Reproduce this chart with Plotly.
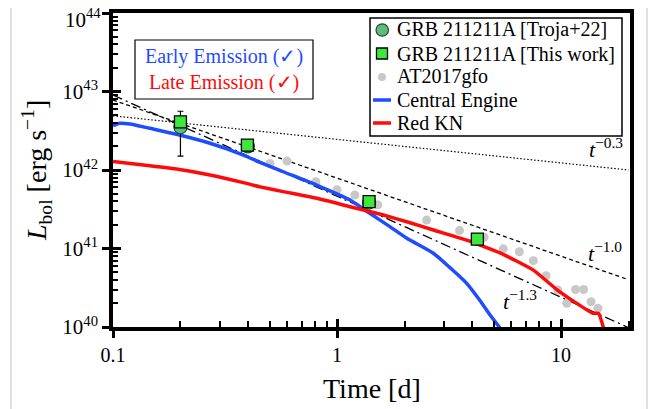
import plotly.graph_objects as go

# ---------------- data ----------------
troja_t = [0.2, 0.4, 1.39]
troja_L = [3.5e42, 2.0e42, 3.85e41]
troja_err_hi = [2.1e42, 0.12e42, 0.2e41]
troja_err_lo = [2.0e42, 0.12e42, 0.2e41]

work_t = [0.2, 0.398, 1.39, 4.23]
work_L = [4.1e42, 2.08e42, 3.95e41, 1.32e41]
work_err = [0.25e42, 0.1e42, 0.25e41, 0.08e41]

at_t = [0.502, 0.598, 0.805, 1.00, 1.20, 1.52, 2.51, 3.52, 4.53, 5.52,
        6.51, 7.52, 8.57, 9.66, 10.6, 11.6, 12.6, 13.6, 14.6]
at_L = [1.21e42, 1.30e42, 7.1e41, 5.6e41, 4.8e41, 3.6e41, 2.3e41, 1.69e41,
        1.39e41, 9.9e40, 9.1e40, 7.0e40, 4.5e40, 2.96e40, 2.0e40, 3.0e40,
        3.0e40, 2.1e40, 1.73e40]

ce_t = [0.1, 0.107, 0.119, 0.146, 0.192, 0.271, 0.382, 0.453, 0.575, 0.812,
        1.143, 1.40, 1.72, 2.05, 2.69, 3.19, 3.79, 4.35, 4.82, 5.34]
ce_L = [3.66e42, 3.94e42, 3.86e42, 3.40e42, 2.85e42, 2.19e42, 1.55e42,
        1.25e42, 9.5e41, 6.4e41, 4.15e41, 2.81e41, 1.90e41, 1.35e41, 8.7e40,
        5.7e40, 3.6e40, 2.16e40, 1.42e40, 9.7e39]

kn_t = [0.1, 0.1365, 0.192, 0.271, 0.382, 0.453, 0.575, 0.812, 1.143, 1.61,
        2.12, 2.69, 3.79, 5.34, 7.52, 9.57, 11.75, 13.9, 14.7, 15.5]
kn_L = [1.28e42, 1.16e42, 1.03e42, 8.64e41, 6.9e41, 6.1e41, 5.3e41, 4.36e41,
        3.41e41, 2.67e41, 2.13e41, 1.72e41, 1.28e41, 8.8e40, 5.3e40, 3.0e40,
        2.0e40, 1.49e40, 1.49e40, 9.5e39]

pl03_t = [0.1, 20]
pl03_L = [4.9e42, 1.0e42]
pl10_t = [0.1, 20]
pl10_L = [7.8e42, 4.0e40]
pl13_t = [0.1, 20]
pl13_L = [9.0e42, 9.8e39]

x_major = [0.1, 1, 10]
x_major_text = ["0.1", "1", "10"]
y_major = [1e40, 1e41, 1e42, 1e43, 1e44]
y_major_text = ["10<sup>40</sup>", "10<sup>41</sup>", "10<sup>42</sup>",
                "10<sup>43</sup>", "10<sup>44</sup>"]

legend_names = ["GRB 211211A [Troja+22]", "GRB 211211A [This work]",
                "AT2017gfo", "Central Engine", "Red KN"]

FONT = "Liberation Serif"
BLUE = "#1f4cff"
RED = "#ff0a0a"
C_TROJA = "#5dbb7c"
C_WORK = "#3de83d"
C_AT = "#c8c8c8"

x_minor = [m * d for d in (0.1, 1.0, 10.0) for m in range(2, 10) if m * d < 20.5]
y_minor = [float(m) * 10.0 ** e for e in range(40, 44) for m in range(2, 10)]

# The page body has an 8px margin, so the figure is drawn 8px in from the
# top-left corner of the window.  Geometry below is in window pixels.
OFF = 8
FIG_W, FIG_H = 657 - OFF, 409 - OFF
L_, R_, T_, B_ = 113, 630, 13, 327
W_, H_ = R_ - L_, B_ - T_


def px(x):
    return (x - L_) / W_


def py(y):
    return (B_ - y) / H_


fig = go.Figure()

# power laws
fig.add_trace(go.Scatter(x=pl03_t, y=pl03_L, mode="lines", showlegend=False,
                         line=dict(color="black", width=1.2, dash="1.5px,2px")))
fig.add_trace(go.Scatter(x=pl10_t, y=pl10_L, mode="lines", showlegend=False,
                         line=dict(color="black", width=1.3, dash="4px,3px")))
fig.add_trace(go.Scatter(x=pl13_t, y=pl13_L, mode="lines", showlegend=False,
                         line=dict(color="black", width=1.3,
                                   dash="10px,4px,2px,4px")))

fig.add_trace(go.Scatter(x=at_t, y=at_L, mode="markers", name=legend_names[2],
                         showlegend=False,
                         marker=dict(color=C_AT, size=9, line=dict(width=0))))

fig.add_trace(go.Scatter(x=ce_t, y=ce_L, mode="lines", name=legend_names[3],
                         showlegend=False,
                         line=dict(color=BLUE, width=3.5, shape="spline",
                                   smoothing=0.7)))
fig.add_trace(go.Scatter(x=kn_t, y=kn_L, mode="lines", name=legend_names[4],
                         showlegend=False,
                         line=dict(color=RED, width=3.5, shape="spline",
                                   smoothing=0.4)))

fig.add_trace(go.Scatter(x=troja_t, y=troja_L, mode="markers",
                         name=legend_names[0], showlegend=False,
                         error_y=dict(type="data", array=troja_err_hi,
                                      arrayminus=troja_err_lo, color="black",
                                      thickness=1.2, width=3),
                         marker=dict(symbol="circle", size=13, color=C_TROJA,
                                     line=dict(color="#1d4d2d", width=1.2))))
fig.add_trace(go.Scatter(x=work_t, y=work_L, mode="markers",
                         name=legend_names[1], showlegend=False,
                         error_y=dict(type="data", array=work_err, color="black",
                                      thickness=1.2, width=3),
                         marker=dict(symbol="square", size=12, color=C_WORK,
                                     line=dict(color="black", width=1.3))))

xr = [-1, 1.3075]
yr = [40, 44]

# the top tick label would be clipped at the figure edge, so it is drawn
# separately a little lower (see below)
y_text_axis = y_major_text[:-1] + [""]

fig.update_layout(
    width=FIG_W, height=FIG_H,
    margin=dict(l=L_ - OFF, r=FIG_W - (R_ - OFF), t=T_ - OFF,
                b=FIG_H - (B_ - OFF), pad=0),
    paper_bgcolor="white", plot_bgcolor="white",
    font=dict(family=FONT, size=20, color="black"),
    showlegend=False,
    xaxis=dict(type="log", range=xr, tickvals=x_major, ticktext=x_major_text,
               ticks="outside", ticklen=7, tickwidth=2.5, tickcolor="black",
               showline=True, linewidth=3.5, linecolor="black", mirror=True,
               showgrid=False, zeroline=False, automargin=False,
               ticklabeloverflow="allow",
               tickfont=dict(family=FONT, size=20),
               minor=dict(tickvals=x_minor, ticks="inside", ticklen=6,
                          tickwidth=2, tickcolor="black", showgrid=False)),
    yaxis=dict(type="log", range=yr, tickvals=y_major, ticktext=y_text_axis,
               ticks="outside", ticklen=7, tickwidth=2.5, tickcolor="black",
               showline=True, linewidth=3.5, linecolor="black", mirror=True,
               showgrid=False, zeroline=False, automargin=False,
               ticklabeloverflow="allow",
               tickfont=dict(family=FONT, size=21),
               minor=dict(tickvals=y_minor, ticks="inside", ticklen=5,
                          tickwidth=2, tickcolor="black", showgrid=False)),
    xaxis2=dict(type="log", range=xr, overlaying="x", anchor="y",
                tickvals=x_major, ticks="inside", ticklen=8, tickwidth=2.5,
                tickcolor="black", showticklabels=False, showgrid=False,
                zeroline=False, showline=False, automargin=False),
    yaxis2=dict(type="log", range=yr, overlaying="y", anchor="x",
                tickvals=y_major, ticks="inside", ticklen=8, tickwidth=2.5,
                tickcolor="black", showticklabels=False, showgrid=False,
                zeroline=False, showline=False, automargin=False),
)

# invisible trace to activate the overlay axes
fig.add_trace(go.Scatter(x=[1], y=[1e42], xaxis="x2", yaxis="y2",
                         mode="markers", marker=dict(opacity=0),
                         showlegend=False, hoverinfo="skip"))


def label(x, y, text, size, xanchor="center", **kw):
    fig.add_annotation(xref="paper", yref="paper", x=px(x), y=py(y),
                       xanchor=xanchor, yanchor="middle", showarrow=False,
                       text=text, font=dict(family=FONT, size=size), **kw)


# top y tick label
label(103, 18, y_major_text[-1], 21, xanchor="right")

# axis titles
label(372, 388, "Time [d]", 28)
label(36, 171, "<i>L</i><sub>bol</sub> [erg s<sup>−1</sup>]", 28,
      textangle=-90)

# inset box
fig.add_shape(type="rect", xref="paper", yref="paper",
              x0=px(135), x1=px(313), y0=py(99), y1=py(40),
              line=dict(color="black", width=1.2), fillcolor="white",
              layer="above")
label(224, 70,
      f"<span style='color:{BLUE}'>Early Emission (✓)</span><br>"
      f"<span style='color:{RED}'>Late Emission (✓)</span>", 20,
      align="center")

# power-law labels
for txt, ax_, ay_ in [("−0.3", 606, 148), ("−1.0", 605, 252), ("−1.3", 520, 300)]:
    label(ax_, ay_, f"<i>t</i><sup>{txt}</sup>", 22)

# custom legend
fig.add_shape(type="rect", xref="paper", yref="paper",
              x0=px(370), x1=px(622), y0=py(136), y1=py(18),
              line=dict(color="black", width=1.5), fillcolor="white",
              layer="above")
rows = [30, 53.5, 77, 100, 123]
for name, ry in zip(legend_names, rows):
    label(395, ry, name, 20, xanchor="left")
fig.add_shape(type="circle", xref="paper", yref="paper",
              x0=px(376), x1=px(388.5), y0=py(rows[0] + 6.2), y1=py(rows[0] - 6.2),
              line=dict(color="#1d4d2d", width=1.2), fillcolor=C_TROJA,
              layer="above")
fig.add_shape(type="rect", xref="paper", yref="paper",
              x0=px(376.5), x1=px(387.5), y0=py(rows[1] + 5.5), y1=py(rows[1] - 5.5),
              line=dict(color="black", width=1.3), fillcolor=C_WORK,
              layer="above")
fig.add_shape(type="circle", xref="paper", yref="paper",
              x0=px(378), x1=px(386), y0=py(rows[2] + 4), y1=py(rows[2] - 4),
              line=dict(width=0), fillcolor=C_AT, layer="above")
for c, ry in [(BLUE, rows[3]), (RED, rows[4])]:
    fig.add_shape(type="line", xref="paper", yref="paper",
                  x0=px(373), x1=px(391), y0=py(ry), y1=py(ry),
                  line=dict(color=c, width=3.5), layer="above")

# page borders visible in the reference
for bx in (11, 647):
    fig.add_shape(type="line", xref="paper", yref="paper",
                  x0=px(bx), x1=px(bx), y0=py(409), y1=py(0),
                  line=dict(color="#d6d6d6", width=1.5))

fig.write_html("out.html")
